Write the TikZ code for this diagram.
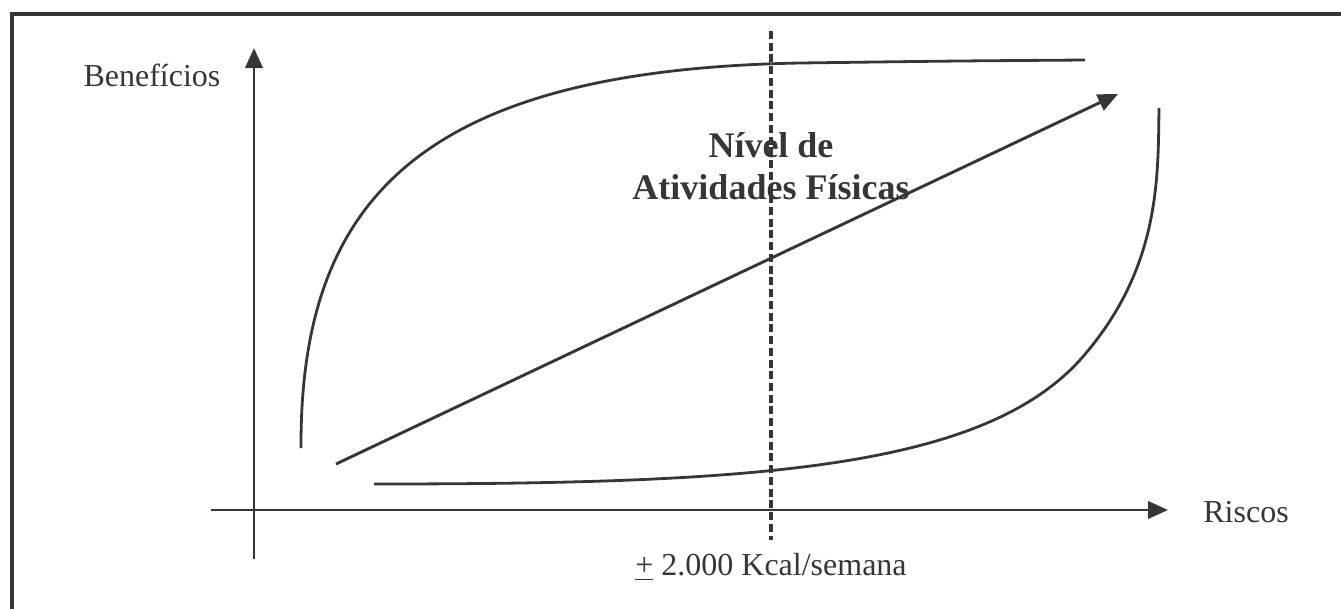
\documentclass[tikz,border=0pt]{standalone}
\usepackage{fontspec}
\setmainfont{Liberation Serif}
\usetikzlibrary{arrows.meta}
\definecolor{ink}{gray}{0.21}

\begin{document}
\begin{tikzpicture}[x=0.375pt,y=-0.375pt,color=ink,line width=1.1pt,
        axis/.style={-{Triangle[length=7.5pt,width=6.5pt]}},
        curve/.style={line width=1.05pt},
        axislabel/.style={font=\fontsize{12}{14}\selectfont},
        levelnote/.style={font=\fontsize{13.5}{16}\selectfont\bfseries,align=center}]
        \useasboundingbox (0,0) rectangle (1341,608);
        \clip (0,0) rectangle (1341,608);
        \draw[line width=1.5pt] (12,14) rectangle (1370,640);

        \coordinate (ybot) at (254,559);
        \coordinate (ytop) at (254,48);
        \coordinate (xleft) at (211,510);
        \coordinate (xright) at (1168,510);
        \coordinate (lvlstart) at (336,464);
        \coordinate (lvlend) at (1118,94);
        \coordinate (cuttop) at (771,31);
        \coordinate (cutbot) at (771,540);

        \node[axislabel] at (152,75)(ben){Benefícios};
        \node[axislabel,anchor=west] at (1193,512)(ris){Riscos};
        \node[axislabel] at (771,567)(kcal){\underline{+} 2.000 Kcal/semana};
        \node[levelnote] at (771,166)(nivel){Nível de\\Atividades Físicas};

        \path[axis]
        (ybot)edge (ytop)
        (xleft)edge (xright)
        (lvlstart)edge (lvlend)
        ;
        \draw[line width=1.4pt,dash pattern=on 3pt off 1.4pt] (cuttop) -- (cutbot);

        % benefit and risk curves
        \draw[curve] (301,448) .. controls (300,200) and (420,70) .. (800,63)
            .. controls (950,61) .. (1085,60);
        \draw[curve] (374,484) .. controls (750,484) and (980,470) .. (1080,360)
            .. controls (1160,270) and (1158,180) .. (1159,108);
    \end{tikzpicture}
\end{document}
